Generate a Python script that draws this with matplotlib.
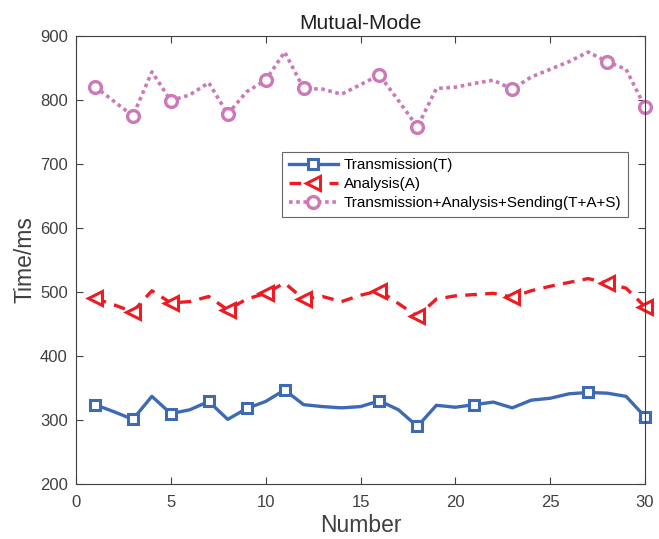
import matplotlib.pyplot as plt

plt.rcParams['font.family'] = ['Liberation Sans', 'DejaVu Sans']

number = list(range(1, 31))
trans = [324, 313, 301, 337, 310, 316, 329, 301, 318, 329,
         347, 324, 321, 319, 321, 330, 316, 290, 323, 320,
         324, 328, 319, 331, 334, 341, 343, 342, 337, 305]
analysis = [490, 480, 469, 502, 483, 485, 493, 472, 489, 498,
            514, 489, 493, 485, 495, 502, 482, 462, 489, 494,
            496, 498, 492, 502, 509, 515, 521, 514, 506, 477]
total = [821, 798, 775, 844, 799, 808, 827, 778, 813, 831,
         875, 818, 817, 809, 824, 839, 799, 758, 818, 820,
         826, 831, 817, 836, 848, 860, 875, 860, 848, 789]

marks_t = [0, 2, 4, 6, 8, 10, 15, 17, 20, 26, 29]
marks_a = [0, 2, 4, 7, 9, 11, 15, 17, 22, 27, 29]

blue = '#3E6AB4'
red = '#ED1C24'
pink = '#CC79B7'
axis_col = '#404040'

fig = plt.figure(figsize=(6.59, 5.39), dpi=100)
ax = fig.add_axes([0.1153, 0.102, 0.8635, 0.8312])

ax.plot(number, trans, color=blue, lw=2.4, marker='s', markersize=6.5,
        markerfacecolor='white', markeredgecolor=blue, markeredgewidth=2.2,
        markevery=marks_t, label='Transmission(T)', clip_on=False)
ax.plot(number, analysis, color=red, lw=2.4, linestyle=(0, (3.5, 2.5)), marker='<',
        markersize=10, markerfacecolor='white', markeredgecolor=red,
        markeredgewidth=2.2, markevery=marks_a, label='Analysis(A)', clip_on=False)
ax.plot(number, total, color=pink, lw=2.6, linestyle=(0, (1, 1)), marker='o',
        markersize=8.5, markerfacecolor='white', markeredgecolor=pink,
        markeredgewidth=2.4, markevery=marks_a,
        label='Transmission+Analysis+Sending(T+A+S)', clip_on=False)

ax.set_xlim(0, 30)
ax.set_ylim(200, 900)
ax.set_xticks(range(0, 31, 5))
ax.set_yticks(range(200, 901, 100))
ax.tick_params(direction='in', top=True, right=True, length=5, width=0.8,
               labelsize=12, colors=axis_col)
ax.tick_params(axis='x', pad=8)
ax.tick_params(axis='y', pad=6)
for s in ax.spines.values():
    s.set_color(axis_col)
    s.set_linewidth(0.8)

ax.set_xlabel('Number', fontsize=16.5, color=axis_col, labelpad=3)
ax.set_ylabel('Time/ms', fontsize=16.5, color=axis_col, labelpad=2)
ax.set_title('Mutual-Mode', fontsize=15, color='#202020', pad=5)

leg = ax.legend(loc='upper left', bbox_to_anchor=(0.362, 0.742), fontsize=11,
                frameon=True, fancybox=False, handlelength=3.2,
                borderpad=0.45, labelspacing=0.32, handletextpad=0.4,
                borderaxespad=0)
leg.get_frame().set_edgecolor(axis_col)
leg.get_frame().set_linewidth(0.8)

fig.savefig('out.png', dpi=100)
